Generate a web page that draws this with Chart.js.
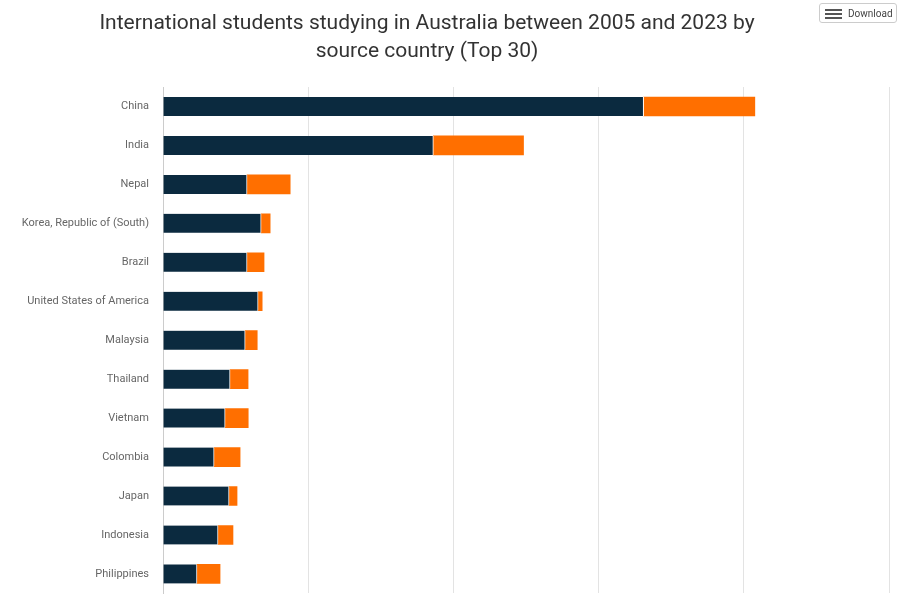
<!DOCTYPE html>
<html><head><meta charset="utf-8">
<script src="https://cdn.jsdelivr.net/npm/chart.js@4"></script>
<style>
body{margin:0;background:#fff;font-family:Roboto,sans-serif;}
#wrap{position:absolute;left:0;top:0;width:916px;height:614px;}
#title{position:absolute;left:67px;width:720px;top:8px;text-align:center;font-size:21px;line-height:28px;color:#333;}
#dl{position:absolute;left:819px;top:3px;width:78px;height:20px;border:1px solid #ccc;border-radius:3px;font-size:10px;color:#444;line-height:20px;box-sizing:border-box;padding-left:28px;}
#dl i{position:absolute;left:5px;top:5px;width:17px;height:2px;background:#555;box-shadow:0 4px 0 #555,0 8px 0 #555;}
</style></head><body style="overflow:hidden;height:594px">
<div id="wrap"><canvas id="c"></canvas></div>
<div id="title">International students studying in Australia between 2005 and 2023 by source country (Top 30)</div>
<div id="dl"><i></i>Download</div>
<script>
const countries = ['China','India','Nepal','Korea, Republic of (South)','Brazil','United States of America','Malaysia','Thailand','Vietnam','Colombia','Japan','Indonesia','Philippines'];
const seriesA = [331000,186200,57900,67600,57900,65500,56600,46200,42800,35200,45500,37900,23400];
const seriesB = [76600,62100,29700,6200,11700,2800,8300,12400,15900,17900,5500,10300,15900];

new Chart(document.getElementById('c'), {
  type: 'bar',
  data: {
    labels: countries,
    datasets: [
      {label: 'Series A', data: seriesA, backgroundColor: '#0b2a3f', borderColor: '#fff', borderWidth: {right: 1}, borderSkipped: false, barThickness: 19},
      {label: 'Series B', data: seriesB, backgroundColor: '#ff6f00', borderColor: '#fff', borderWidth: 0, barThickness: 19}
    ]
  },
  options: {
    indexAxis: 'y',
    responsive: true, maintainAspectRatio: false, animation: false,
    layout: {padding: {top: 87, right: 27, bottom: 0, left: 0}},
    plugins: {legend: {display: false}, tooltip: {enabled: false}},
    scales: {
      x: {stacked: true, min: 0, max: 500000, ticks: {display: false, stepSize: 100000},
          grid: {color: '#e3e3e3', drawTicks: false}, border: {display: false},
          afterFit: s => { s.height = 0; }},
      y: {stacked: true, grid: {display: false, drawTicks: false},
          border: {display: true, color: '#ccc'},
          ticks: {color: '#666', font: {family: 'Roboto', size: 11}, padding: 14},
          afterFit: s => { s.width = 163; }}
    }
  }
});
</script>
</body></html>
